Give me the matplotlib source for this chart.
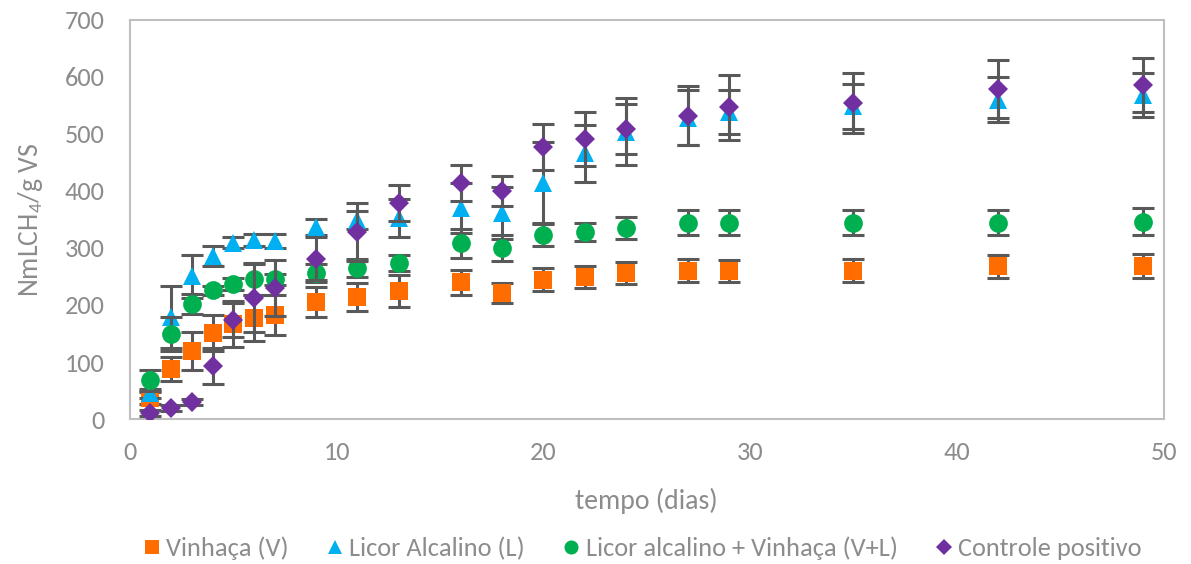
import numpy as np
import matplotlib
matplotlib.use("Agg")
import matplotlib.pyplot as plt
from matplotlib import font_manager

# dias de amostragem
dias = [1, 2, 3, 4, 5, 6, 7, 9, 11, 13, 16, 18, 20, 22, 24, 27, 29, 35, 42, 49]

# producao acumulada de metano (NmL CH4 / g VS) e desvios
vinhaca = [37, 88, 119, 151, 167, 177, 182, 205, 214, 225, 240, 221, 244, 249, 256, 260, 260, 260, 268, 268]
vinhaca_err = [10, 21, 33, 32, 40, 40, 35, 26, 25, 28, 22, 18, 20, 19, 20, 20, 19, 20, 20, 21]

licor = [45, 179, 250, 286, 309, 314, 312, 337, 349, 352, 370, 361, 414, 466, 504, 528, 538, 548, 560, 568]
licor_err = [8, 54, 38, 17, 10, 10, 12, 14, 15, 33, 44, 46, 72, 50, 58, 48, 38, 39, 39, 39]

mistura = [68, 149, 202, 226, 237, 245, 245, 256, 265, 273, 308, 300, 323, 328, 335, 344, 344, 344, 344, 346]
mistura_err = [18, 30, 18, 8, 10, 28, 10, 15, 16, 14, 25, 23, 20, 16, 19, 22, 22, 22, 22, 24]

controle = [10, 19, 30, 93, 174, 212, 230, 281, 328, 379, 414, 400, 477, 491, 509, 532, 547, 554, 579, 586]
controle_err = [5, 5, 5, 32, 30, 60, 49, 38, 51, 32, 32, 26, 40, 47, 44, 52, 57, 53, 51, 47]

nomes = ["Vinhaça (V)", "Licor Alcalino (L)", "Licor alcalino + Vinhaça (V+L)", "Controle positivo"]

# fonte parecida com Calibri, se houver
disponiveis = set(f.name for f in font_manager.fontManager.ttflist)
fonte = "DejaVu Sans"
for nome in ["Carlito", "Liberation Sans Narrow", "Open Sans", "Liberation Sans"]:
    if nome in disponiveis:
        fonte = nome
        break
plt.rcParams["font.family"] = [fonte, "DejaVu Sans"]

cinza_txt = "#8c8c8c"
cinza_eixo = "#bfbfbf"
cinza_barra = "#595959"

fig = plt.figure(figsize=(11.91, 5.64), dpi=100)
ax = fig.add_axes([0.109, 0.257, 0.868, 0.708])

series = [
    (vinhaca, vinhaca_err, "s", "#FF6D00", 13),
    (licor, licor_err, "^", "#00B0F0", 13),
    (mistura, mistura_err, "o", "#00B050", 13.5),
    (controle, controle_err, "D", "#7030A0", 10.5),
]

for k, (y, e, m, cor, ms) in enumerate(series):
    ax.errorbar(dias, y, yerr=e, fmt="none", ecolor=cinza_barra, elinewidth=2.2,
                capsize=8, capthick=2.2, zorder=3 + 2 * k)
    ax.plot(dias, y, linestyle="none", marker=m, color=cor, markersize=ms,
            markeredgewidth=0, zorder=4 + 2 * k)

ax.set_xlim(0, 50)
ax.set_ylim(0, 700)
ax.set_xticks(np.arange(0, 51, 10))
ax.set_yticks(np.arange(0, 701, 100))
ax.tick_params(length=0, labelsize=19, colors=cinza_txt)
ax.tick_params(axis="x", pad=16)
ax.tick_params(axis="y", pad=18)
for s in ax.spines.values():
    s.set_color(cinza_eixo)
    s.set_linewidth(1.5)

ax.set_xlabel("tempo (dias)", fontsize=20, color=cinza_txt, labelpad=17)
ax.set_ylabel(r"NmLCH$_{\mathregular{4}}$/g VS", fontsize=20, color=cinza_txt, labelpad=14)

leg_handles = []
for (y, e, m, cor, ms) in series:
    lh, = ax.plot([], [], linestyle="none", marker=m, color=cor,
                  markersize=ms * 0.75, markeredgewidth=0)
    leg_handles.append(lh)
fig.legend(leg_handles, nomes, loc="lower center", bbox_to_anchor=(0.538, -0.035),
           ncol=4, frameon=False, fontsize=19, labelcolor=cinza_txt,
           handletextpad=0.1, columnspacing=1.3, handlelength=0.9)

fig.savefig("out.png", dpi=100)
